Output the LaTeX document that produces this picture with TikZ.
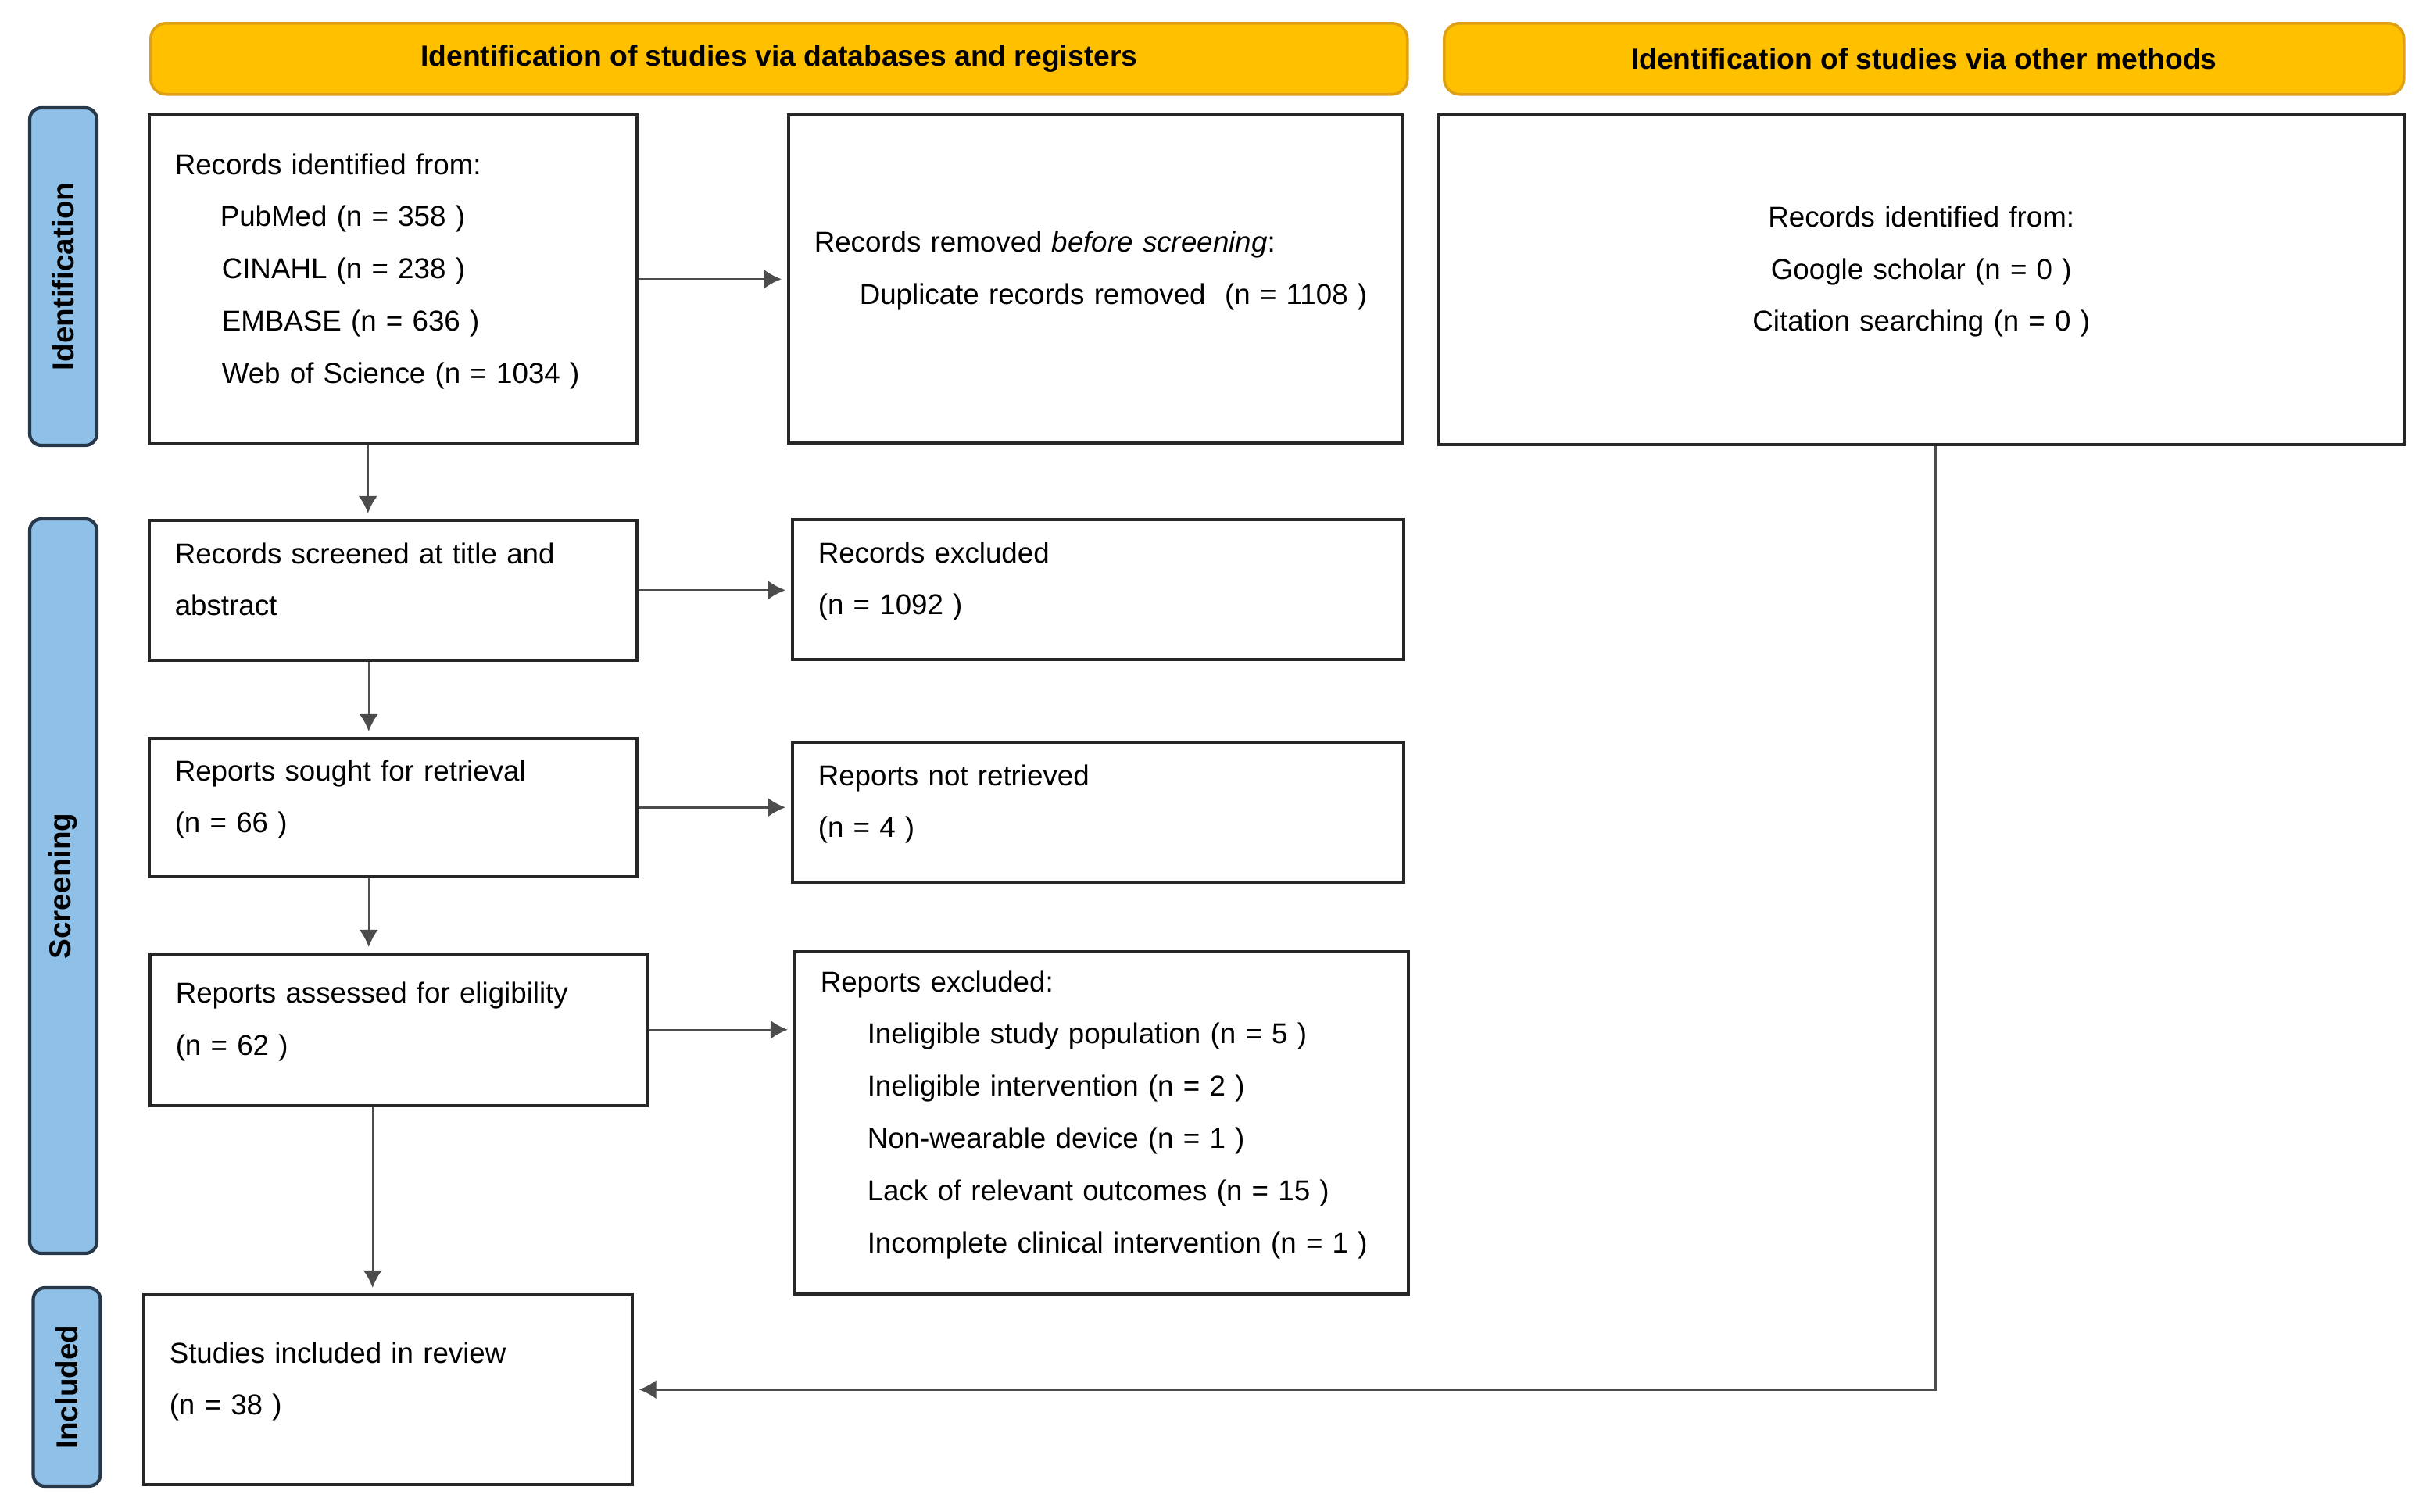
\documentclass[tikz,border=0pt]{standalone}
\usepackage{fontspec}
\setmainfont{Liberation Sans}
\usetikzlibrary{arrows.meta}
\usetikzlibrary{positioning}

\definecolor{headgold}{RGB}{255,192,0}
\definecolor{headedge}{RGB}{222,160,20}
\definecolor{sideblue}{RGB}{143,193,232}
\definecolor{sideedge}{RGB}{38,56,74}

\begin{document}
\begin{tikzpicture}[>={Latex[length=2.2mm,width=2.4mm]},
  flow box/.style={draw=black!85,line width=1pt,fill=white,anchor=north west,inner xsep=0.33cm,
    align=left,font=\fontsize{10.45}{19}\selectfont,execute at end node={\rule[-0.28cm]{0pt}{0pt}}},
  head box/.style={draw=headedge,fill=headgold,line width=1pt,rounded corners=0.2cm,anchor=north west,
    minimum height=0.91cm,font=\fontsize{10.6}{13}\selectfont\bfseries},
  side bar/.style={draw=sideedge,fill=sideblue,line width=1.2pt,rounded corners=0.15cm,rotate=90,
    minimum height=0.86cm,font=\fontsize{11}{13}\selectfont\bfseries},
  flow/.style={->,draw=black!70,line width=0.7pt,shorten >=2pt}]

  \useasboundingbox (0,0) rectangle (31.04,-19.34);

  \node[head box,minimum width=16.08cm] (head1) at (1.91,-0.28) {Identification of studies via databases and registers};
  \node[head box,minimum width=12.28cm] (head2) at (18.46,-0.28) {Identification of studies via other methods};

  \node[side bar,minimum width=4.32cm] (idbar) at (0.81,-3.54) {Identification};
  \node[side bar,minimum width=9.40cm] (scrbar) at (0.81,-11.34) {Screening};
  \node[side bar,minimum width=2.54cm] (incbar) at (0.855,-17.75) {Included};

  \node[flow box,text width=5.58cm,minimum height=4.21cm] (id) at (1.89,-1.45)
    {Records identified from:\\
     \hspace*{0.58cm}PubMed (n = 358 )\\
     \hspace*{0.6cm}CINAHL (n = 238 )\\
     \hspace*{0.6cm}EMBASE (n = 636 )\\
     \hspace*{0.6cm}Web of Science (n = 1034 )};
  \node[flow box,text width=7.19cm,minimum height=4.20cm] (removed) at (10.07,-1.45)
    {Records removed \textit{before screening}:\\
     \hspace*{0.58cm}Duplicate records removed~~(n = 1108 )};
  \node[flow box,text width=11.69cm,minimum height=4.22cm,align=center] (other) at (18.39,-1.45)
    {Records identified from:\\
     Google scholar (n = 0 )\\
     Citation searching (n = 0 )};

  \node[flow box,text width=5.58cm,minimum height=1.79cm] (screen) at (1.89,-6.64)
    {Records screened at title and\\ abstract};
  \node[flow box,text width=7.16cm,minimum height=1.79cm] (excluded) at (10.12,-6.63)
    {Records excluded\\ (n = 1092 )};

  \node[flow box,text width=5.58cm,minimum height=1.77cm] (sought) at (1.89,-9.43)
    {Reports sought for retrieval\\ (n = 66 )};
  \node[flow box,text width=7.16cm,minimum height=1.79cm] (notret) at (10.12,-9.48)
    {Reports not retrieved\\ (n = 4 )};

  \node[flow box,text width=5.70cm,minimum height=1.94cm] (assessed) at (1.90,-12.19)
    {Reports assessed for eligibility\\ (n = 62 )};
  \node[flow box,text width=7.19cm,minimum height=4.38cm] (repexcl) at (10.15,-12.16)
    {Reports excluded:\\
     \hspace*{0.6cm}Ineligible study population (n = 5 )\\
     \hspace*{0.6cm}Ineligible intervention (n = 2 )\\
     \hspace*{0.6cm}Non-wearable device (n = 1 )\\
     \hspace*{0.6cm}Lack of relevant outcomes (n = 15 )\\
     \hspace*{0.6cm}Incomplete clinical intervention (n = 1 )};

  \node[flow box,text width=5.59cm,minimum height=2.43cm] (incl) at (1.82,-16.55)
    {Studies included in review\\ (n = 38 )};

  \draw[flow] (id.east) -- (id.east -| removed.west);
  \draw[flow] (screen.east) -- (screen.east -| excluded.west);
  \draw[flow] (sought.east) -- (sought.east -| notret.west);
  \draw[flow] (assessed.east) -- (assessed.east -| repexcl.west);

  \draw[flow] ([xshift=-0.32cm]id.south) -- ([xshift=-0.32cm]id.south |- screen.north);
  \draw[flow] ([xshift=-0.31cm]screen.south) -- ([xshift=-0.31cm]screen.south |- sought.north);
  \draw[flow] ([xshift=-0.31cm]sought.south) -- ([xshift=-0.31cm]sought.south |- assessed.north);
  \draw[flow] ([xshift=-0.33cm]assessed.south) -- ([xshift=-0.33cm]assessed.south |- incl.north);

  \draw[flow] ([xshift=0.18cm]other.south) |- (incl.east);
\end{tikzpicture}
\end{document}
